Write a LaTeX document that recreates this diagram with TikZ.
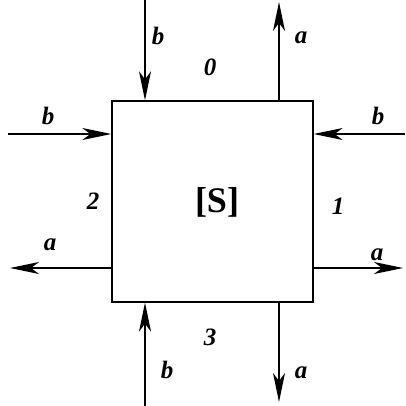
\documentclass[tikz,border=0pt]{standalone}
\usepackage{fontspec}
\setmainfont{Liberation Serif}
\usetikzlibrary{arrows.meta, positioning, calc}

\tikzset{
    flow/.style={line width=1.3pt, -{Stealth[length=29pt, width=12pt, inset=8pt]}},
    lbl/.style={font=\fontsize{25}{28}\selectfont\bfseries\itshape, inner sep=0pt},
}

\begin{document}
\begin{tikzpicture}[x=1pt, y=-1pt]
    \useasboundingbox (0,0) rectangle (405,406);

    % the system box
    \node[draw, line width=1.3pt, minimum width=201pt, minimum height=201pt, inner sep=0pt] (sys) at (212.5,201.5) {};
    \node[font=\fontsize{36}{40}\selectfont\bfseries, inner sep=0pt] (sysname) at (217,202) {[S]};

    % free ends of the arrows
    \coordinate (topin)  at (145,0);
    \coordinate (topout) at (279,2);
    \coordinate (leftin) at (8,134);
    \coordinate (rightin) at (405,134);
    \coordinate (leftout) at (10,268);
    \coordinate (rightout) at (403,268);
    \coordinate (botin)  at (145,406);
    \coordinate (botout) at (279,402);

    % incoming b
    \draw[flow] (topin) -- (topin |- sys.north);
    \draw[flow] (leftin) -- (leftin -| sys.west);
    \draw[flow] (rightin) -- (rightin -| sys.east);
    \draw[flow] (botin) -- (botin |- sys.south);

    % outgoing a
    \draw[flow] (topout |- sys.north) -- (topout);
    \draw[flow] (leftout -| sys.west) -- (leftout);
    \draw[flow] (rightout -| sys.east) -- (rightout);
    \draw[flow] (botout |- sys.south) -- (botout);

    % arrow labels
    \node[lbl] (lbtop)   at (158,36)  {b};
    \node[lbl] (latop)   at (301,38)  {a};
    \node[lbl] (lbleft)  at (48,116)  {b};
    \node[lbl] (lbright) at (378,116) {b};
    \node[lbl] (laleft)  at (50,245)  {a};
    \node[lbl] (laright) at (377,255) {a};
    \node[lbl] (lbbot)   at (167,370) {b};
    \node[lbl] (labot)   at (301,373) {a};

    % port numbers
    \node[lbl] (port0) at (210,67)  {0};
    \node[lbl] (port1) at (338,206) {1};
    \node[lbl] (port2) at (93,201)  {2};
    \node[lbl] (port3) at (210,337) {3};
\end{tikzpicture}
\end{document}
